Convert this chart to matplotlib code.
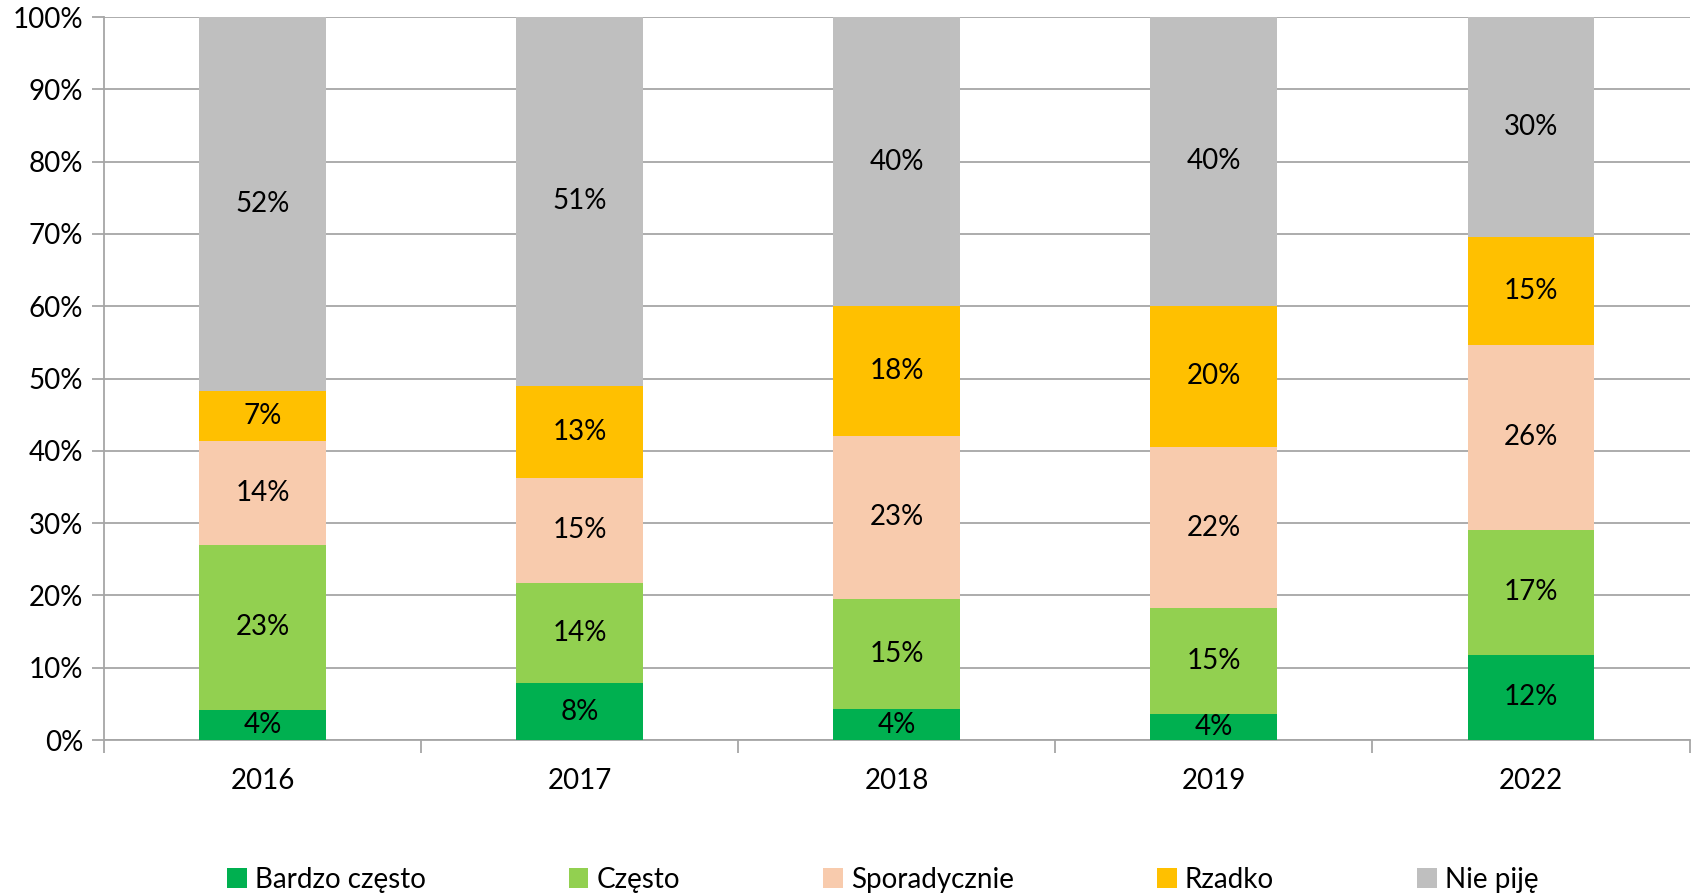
import numpy as np
import matplotlib.pyplot as plt
from matplotlib.ticker import FixedLocator, PercentFormatter

plt.rcParams['font.family'] = ['Lato', 'DejaVu Sans']

# dane (w %)
years = ['2016', '2017', '2018', '2019', '2022']
series = ['Bardzo często', 'Często', 'Sporadycznie', 'Rzadko', 'Nie piję']
bardzo_czesto = [4.2, 7.9, 4.3, 3.6, 11.8]
czesto = [22.8, 13.8, 15.2, 14.6, 17.3]
sporadycznie = [14.4, 14.6, 22.6, 22.3, 25.6]
rzadko = [6.9, 12.7, 17.9, 19.6, 14.9]
nie_pije = [51.7, 51.0, 40.0, 39.9, 30.4]
colors = ['#00B050', '#92D050', '#F8CBAD', '#FFC000', '#BFBFBF']

values = [bardzo_czesto, czesto, sporadycznie, rzadko, nie_pije]

fig = plt.figure(figsize=(16.98, 8.96), dpi=100)
ax = fig.add_axes([0.0612, 0.174, 0.9338, 0.807])

x = np.arange(len(years))
bottom = np.zeros(len(years))
for name, vals, col in zip(series, values, colors):
    vals = np.array(vals)
    ax.bar(x, vals, 0.4, bottom=bottom, color=col, label=name, zorder=3)
    for xi, b, v in zip(x, bottom, vals):
        ax.text(xi, b + v / 2, f'{round(v):.0f}%', ha='center', va='center',
                fontsize=20, color='black', zorder=4)
    bottom += vals

ax.set_xlim(-0.5, len(years) - 0.5)
ax.set_ylim(0, 100)
ax.set_yticks(np.arange(0, 101, 10))
ax.yaxis.set_major_formatter(PercentFormatter(decimals=0))
ax.set_xticks(x)
ax.set_xticklabels(years)
ax.xaxis.set_minor_locator(FixedLocator(np.arange(-0.5, len(years), 1)))
ax.tick_params(axis='x', which='major', length=0, pad=20, labelsize=20)
ax.tick_params(axis='x', which='minor', length=9, color='#A6A6A6', width=1.3)
ax.tick_params(axis='y', length=9, color='#A6A6A6', width=1.3, labelsize=20, pad=6)

ax.grid(axis='y', color='#A6A6A6', linewidth=1.3, zorder=0)
for s in ['top', 'right']:
    ax.spines[s].set_visible(False)
for s in ['left', 'bottom']:
    ax.spines[s].set_color('#A6A6A6')
    ax.spines[s].set_linewidth(1.3)

fig.legend(loc='center', bbox_to_anchor=(0.52, 0.018), ncol=5, frameon=False,
           fontsize=20, handlelength=0.7, handleheight=0.7, handletextpad=0.3,
           columnspacing=5.15, borderaxespad=0)

fig.savefig('out.png', dpi=100)
